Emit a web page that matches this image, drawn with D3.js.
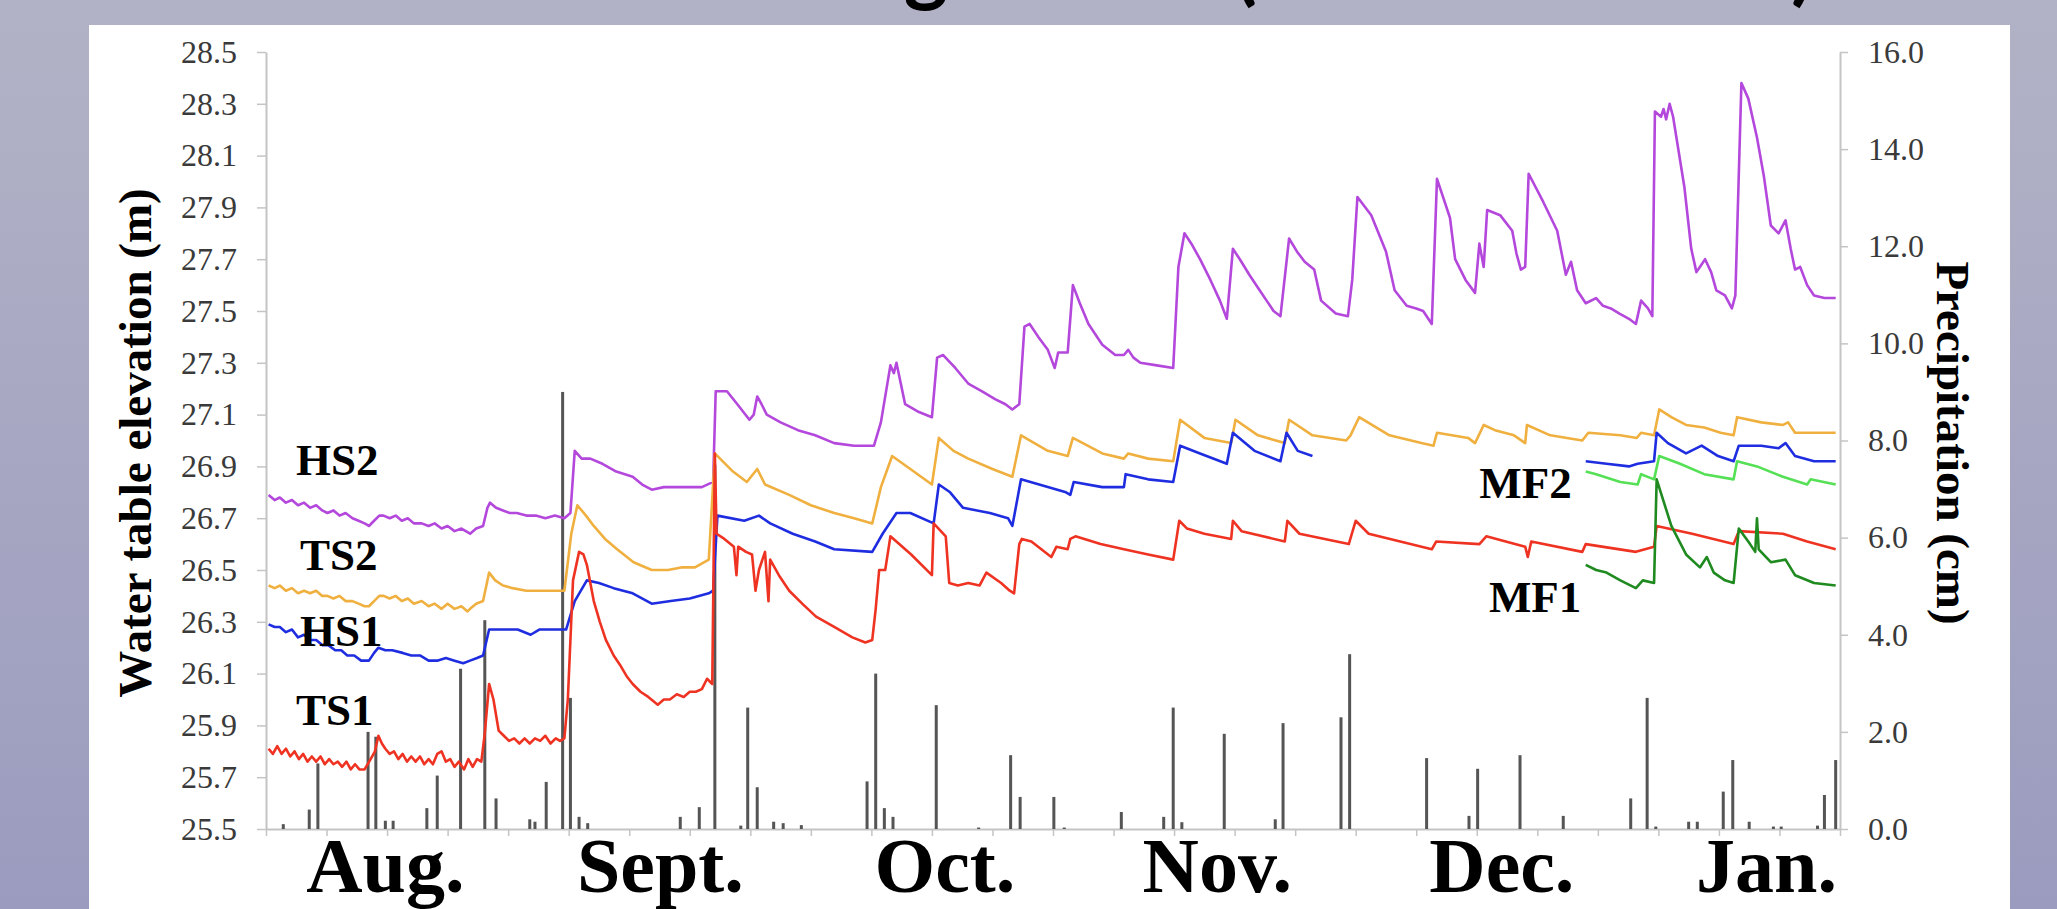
<!DOCTYPE html>
<html><head><meta charset="utf-8">
<script src="https://cdn.jsdelivr.net/npm/d3@7"></script>
<style>
html,body{margin:0;padding:0;overflow:hidden;background:#fff;}
</style></head><body>
<svg id="chart" width="2057" height="909"></svg>
<script>
// ---------- DATA (day index since start of record, water table elevation in m) ----------
const hs2 = [[0.3,26.79],[1.0,26.77],[1.6,26.78],[2.3,26.76],[3.0,26.77],[3.7,26.75],[4.4,26.76],[5.1,26.74],[5.8,26.75],[6.5,26.73],[7.1,26.72],[7.8,26.73],[8.5,26.71],[9.2,26.72],[10.0,26.70],[10.7,26.69],[11.4,26.68],[11.9,26.67],[12.5,26.69],[13.1,26.71],[13.6,26.71],[14.3,26.70],[15.0,26.71],[15.7,26.69],[16.4,26.70],[17.1,26.68],[18.0,26.68],[18.8,26.67],[19.5,26.68],[20.3,26.66],[21.0,26.67],[21.8,26.65],[22.6,26.66],[23.6,26.64],[24.3,26.66],[25.1,26.67],[25.6,26.74],[25.9,26.76],[26.6,26.74],[27.4,26.73],[28.2,26.72],[29.0,26.72],[30.1,26.71],[31.2,26.71],[32.3,26.70],[33.4,26.71],[34.5,26.70],[35.2,26.72],[35.7,26.96],[36.5,26.93],[37.5,26.93],[38.9,26.91],[40.5,26.88],[42.4,26.86],[43.5,26.83],[44.6,26.81],[46.0,26.82],[47.9,26.82],[49.0,26.82],[50.4,26.82],[51.7,26.84],[52.0,27.19],[53.3,27.19],[54.5,27.14],[55.9,27.08],[56.4,27.10],[56.8,27.17],[57.3,27.14],[57.9,27.10],[59.5,27.07],[61.5,27.04],[63.5,27.02],[65.7,26.99],[68.0,26.98],[70.3,26.98],[71.1,27.07],[72.2,27.29],[72.6,27.26],[72.9,27.30],[73.4,27.22],[73.9,27.14],[75.5,27.11],[77.0,27.09],[77.6,27.32],[78.3,27.33],[79.7,27.28],[81.2,27.22],[82.8,27.19],[84.3,27.16],[85.5,27.14],[86.3,27.12],[87.1,27.14],[87.7,27.44],[88.3,27.45],[89.3,27.40],[90.4,27.35],[91.2,27.28],[91.6,27.34],[92.7,27.34],[93.3,27.60],[94.1,27.53],[95.1,27.45],[96.7,27.37],[98.2,27.33],[99.2,27.33],[99.7,27.35],[100.3,27.32],[101.1,27.30],[103.0,27.29],[104.9,27.28],[105.5,27.67],[106.2,27.80],[107.0,27.76],[108.0,27.70],[109.2,27.62],[110.3,27.54],[111.1,27.47],[111.8,27.74],[112.6,27.70],[113.7,27.64],[114.7,27.59],[115.7,27.54],[116.5,27.50],[117.3,27.48],[118.3,27.78],[119.2,27.73],[120.1,27.69],[121.2,27.66],[122.0,27.54],[123.7,27.49],[125.1,27.48],[125.6,27.62],[126.2,27.94],[127.8,27.87],[129.5,27.73],[130.5,27.58],[131.9,27.52],[133.0,27.51],[133.8,27.50],[134.8,27.45],[135.4,28.01],[136.9,27.86],[137.5,27.70],[138.7,27.62],[139.8,27.57],[140.3,27.76],[140.8,27.67],[141.2,27.89],[142.7,27.87],[144.1,27.81],[144.6,27.72],[145.1,27.66],[145.6,27.67],[146.0,28.03],[147.7,27.92],[149.3,27.81],[150.3,27.64],[150.9,27.69],[151.6,27.58],[152.6,27.53],[153.8,27.55],[154.6,27.52],[155.5,27.51],[156.5,27.49],[157.6,27.47],[158.4,27.45],[159.0,27.54],[159.8,27.51],[160.3,27.48],[160.6,28.27],[161.3,28.25],[161.6,28.28],[161.9,28.24],[162.3,28.30],[162.7,28.25],[164.0,27.98],[164.8,27.74],[165.4,27.65],[166.4,27.70],[167.1,27.65],[167.7,27.58],[168.7,27.56],[169.5,27.51],[169.9,27.56],[170.6,28.38],[171.4,28.32],[172.4,28.17],[173.2,28.02],[174.0,27.83],[174.9,27.80],[175.7,27.85],[176.3,27.74],[176.8,27.66],[177.4,27.67],[178.2,27.60],[179.0,27.56],[180.2,27.55],[181.5,27.55]];

const ts2 = [[0.3,26.44],[1.0,26.43],[1.6,26.44],[2.3,26.42],[3.0,26.43],[3.7,26.41],[4.4,26.42],[5.1,26.41],[5.8,26.42],[6.5,26.40],[7.1,26.40],[7.8,26.39],[8.5,26.40],[9.2,26.38],[10.0,26.38],[10.7,26.37],[11.4,26.36],[11.9,26.36],[12.5,26.38],[13.1,26.40],[13.6,26.40],[14.3,26.39],[15.0,26.40],[15.7,26.38],[16.4,26.39],[17.1,26.37],[18.0,26.38],[18.8,26.36],[19.5,26.37],[20.3,26.35],[21.0,26.37],[21.8,26.35],[22.6,26.36],[23.3,26.34],[23.6,26.35],[24.3,26.37],[25.1,26.38],[25.8,26.49],[26.5,26.46],[27.4,26.44],[28.5,26.43],[30.1,26.42],[31.5,26.42],[33.0,26.42],[34.5,26.42],[35.3,26.64],[36.0,26.75],[37.0,26.71],[37.9,26.67],[39.2,26.62],[40.6,26.58],[42.5,26.53],[44.6,26.50],[46.5,26.50],[48.0,26.51],[49.6,26.51],[51.2,26.54],[51.9,26.95],[52.5,26.93],[54.0,26.88],[55.6,26.84],[56.8,26.89],[57.7,26.83],[60.5,26.79],[63.0,26.75],[65.7,26.72],[68.0,26.70],[70.1,26.68],[71.1,26.82],[72.4,26.94],[74.5,26.89],[77.0,26.83],[77.8,27.01],[79.5,26.96],[81.2,26.93],[84.0,26.89],[86.3,26.86],[87.3,27.02],[90.4,26.96],[92.7,26.94],[93.3,27.01],[96.7,26.95],[99.2,26.93],[99.7,26.95],[102.0,26.93],[104.9,26.92],[105.7,27.08],[108.5,27.01],[111.6,26.99],[112.1,27.08],[114.7,27.02],[117.8,26.99],[118.3,27.08],[121.0,27.02],[124.9,27.00],[125.4,27.02],[126.4,27.09],[129.9,27.02],[133.6,26.99],[135.0,26.98],[135.4,27.03],[139.0,27.01],[139.8,26.99],[140.8,27.06],[142.1,27.04],[144.3,27.02],[145.6,26.99],[145.8,27.06],[148.5,27.02],[152.2,27.00],[152.9,27.03],[156.6,27.02],[158.5,27.01],[159.0,27.03],[160.5,27.02],[161.1,27.12],[162.5,27.09],[164.2,27.06],[166.3,27.05],[168.2,27.03],[169.7,27.02],[170.1,27.09],[172.9,27.07],[175.4,27.06],[176.0,27.07],[176.8,27.03],[179.0,27.03],[181.5,27.03]];

// HS1: null marks the gap in the record
const hs1 = [[0.3,26.29],[1.0,26.28],[1.6,26.28],[2.3,26.26],[3.0,26.27],[3.7,26.24],[4.4,26.25],[5.1,26.23],[5.8,26.23],[6.5,26.21],[7.2,26.21],[8.0,26.19],[8.7,26.19],[9.4,26.17],[10.2,26.17],[11.0,26.15],[11.9,26.15],[12.5,26.18],[13.0,26.20],[13.8,26.19],[14.6,26.19],[15.8,26.18],[16.8,26.17],[17.8,26.17],[18.8,26.15],[19.8,26.15],[20.8,26.16],[21.8,26.15],[22.8,26.14],[23.6,26.15],[24.4,26.16],[25.1,26.17],[25.8,26.27],[27.0,26.27],[28.0,26.27],[29.1,26.27],[30.6,26.25],[31.6,26.27],[32.6,26.27],[34.7,26.27],[35.7,26.38],[37.1,26.46],[38.5,26.45],[40.2,26.43],[42.4,26.41],[44.6,26.37],[46.8,26.38],[49.0,26.39],[51.2,26.41],[51.7,26.42],[52.2,26.71],[55.3,26.69],[57.0,26.71],[58.3,26.68],[60.9,26.64],[63.5,26.61],[65.7,26.58],[70.1,26.57],[71.3,26.64],[72.9,26.72],[74.5,26.72],[77.2,26.68],[77.8,26.83],[79.1,26.80],[80.6,26.74],[83.7,26.72],[85.8,26.70],[86.3,26.67],[87.3,26.85],[89.4,26.83],[92.5,26.80],[93.0,26.79],[93.4,26.84],[96.7,26.82],[99.2,26.82],[99.4,26.87],[102.0,26.85],[104.9,26.84],[105.7,26.98],[108.0,26.95],[111.1,26.91],[111.8,27.03],[114.3,26.96],[117.3,26.92],[118.0,27.03],[119.3,26.96],[121.0,26.94],
  [136.0,null],
  [152.6,26.92],[155.0,26.91],[157.6,26.90],[158.6,26.91],[160.5,26.92],[160.8,27.03],[162.1,26.99],[164.2,26.95],[166.0,26.98],[167.9,26.94],[169.7,26.92],[170.3,26.98],[172.9,26.98],[174.9,26.97],[175.7,26.99],[176.8,26.94],[179.0,26.92],[181.5,26.92]];

const ts1 = [[0.3,25.81],[0.8,25.79],[1.3,25.82],[1.8,25.79],[2.3,25.81],[2.8,25.78],[3.3,25.80],[3.8,25.77],[4.3,25.79],[4.8,25.76],[5.3,25.78],[5.8,25.76],[6.3,25.78],[6.8,25.75],[7.3,25.77],[7.8,25.75],[8.3,25.76],[8.8,25.74],[9.3,25.76],[9.8,25.73],[10.3,25.75],[10.8,25.73],[11.4,25.73],[12.1,25.77],[12.6,25.80],[13.0,25.86],[13.4,25.83],[13.8,25.81],[14.3,25.79],[14.8,25.80],[15.3,25.77],[15.8,25.79],[16.3,25.76],[16.8,25.78],[17.3,25.76],[17.8,25.78],[18.3,25.75],[18.8,25.77],[19.3,25.75],[19.8,25.79],[20.3,25.80],[20.8,25.76],[21.3,25.77],[21.8,25.74],[22.3,25.76],[22.9,25.73],[23.4,25.77],[23.9,25.74],[24.4,25.77],[24.9,25.76],[25.3,25.87],[25.8,26.06],[26.3,26.00],[26.9,25.88],[27.5,25.86],[28.1,25.84],[28.7,25.85],[29.3,25.83],[29.9,25.85],[30.5,25.83],[31.1,25.85],[31.7,25.84],[32.3,25.86],[32.9,25.83],[33.5,25.85],[34.0,25.84],[34.5,25.85],[34.9,26.00],[35.5,26.46],[36.2,26.57],[36.7,26.56],[37.1,26.52],[37.9,26.38],[38.6,26.30],[39.3,26.23],[40.2,26.17],[41.0,26.13],[41.7,26.09],[42.4,26.06],[43.3,26.03],[44.2,26.01],[45.3,25.98],[46.0,26.00],[46.7,26.00],[47.5,26.02],[48.3,26.01],[49.0,26.03],[49.7,26.03],[50.4,26.04],[51.0,26.08],[51.6,26.06],[51.9,26.95],[52.1,26.64],[53.0,26.62],[54.1,26.59],[54.4,26.48],[54.6,26.59],[55.5,26.57],[56.2,26.56],[56.6,26.42],[57.0,26.50],[57.7,26.57],[58.1,26.38],[58.3,26.54],[59.3,26.48],[60.5,26.42],[62.0,26.37],[63.6,26.32],[65.7,26.28],[67.8,26.24],[69.3,26.22],[70.1,26.23],[70.5,26.35],[70.9,26.50],[71.6,26.50],[72.2,26.63],[74.6,26.56],[77.0,26.48],[77.2,26.68],[78.6,26.63],[79.0,26.45],[80.0,26.44],[81.2,26.45],[82.5,26.44],[83.3,26.49],[85.0,26.45],[86.0,26.42],[86.5,26.41],[87.1,26.60],[87.4,26.62],[88.5,26.61],[90.8,26.55],[91.4,26.59],[92.7,26.58],[93.0,26.62],[93.6,26.63],[96.5,26.60],[99.2,26.58],[102.0,26.56],[104.9,26.54],[105.6,26.69],[106.5,26.66],[108.5,26.64],[111.6,26.62],[111.8,26.69],[112.8,26.65],[117.8,26.61],[118.1,26.69],[119.5,26.64],[125.2,26.60],[126.0,26.69],[127.5,26.64],[134.8,26.58],[135.3,26.61],[140.3,26.60],[141.1,26.63],[145.6,26.59],[145.9,26.55],[146.3,26.61],[152.2,26.57],[152.6,26.60],[158.4,26.57],[160.5,26.59],[160.8,26.67],[164.9,26.64],[169.7,26.60],[170.3,26.65],[175.4,26.64],[178.2,26.61],[181.5,26.58]];

const mf2 = [[152.6,26.88],[153.8,26.87],[156.6,26.84],[158.6,26.83],[159.0,26.87],[160.5,26.85],[161.1,26.94],[163.5,26.91],[166.3,26.87],[169.7,26.85],[170.1,26.92],[172.4,26.90],[175.4,26.86],[178.2,26.83],[178.6,26.85],[181.5,26.83]];

const mf1 = [[152.6,26.52],[153.8,26.50],[155.0,26.49],[156.6,26.46],[158.4,26.43],[159.2,26.46],[160.5,26.45],[160.8,26.85],[162.5,26.67],[164.2,26.56],[165.8,26.51],[166.6,26.55],[167.4,26.49],[168.7,26.46],[169.7,26.45],[170.3,26.66],[171.6,26.60],[172.2,26.57],[172.4,26.70],[172.6,26.58],[174.0,26.53],[175.7,26.54],[176.8,26.48],[179.0,26.45],[181.5,26.44]];

// Daily precipitation (cm)
const precipDays = [2.0,5.0,6.0,11.8,12.7,13.8,14.7,18.6,19.8,22.5,25.3,26.6,30.5,31.1,32.4,34.3,35.2,36.2,37.2,47.9,50.1,51.9,54.9,55.7,56.8,58.7,59.8,61.9,69.5,70.5,71.5,72.5,77.5,82.4,86.1,87.2,91.1,92.3,98.9,103.8,104.9,105.9,110.8,116.7,117.6,124.3,125.3,134.2,139.1,140.1,145.0,150.0,157.8,159.7,160.7,164.5,165.5,168.5,169.6,171.5,174.3,175.2,179.4,180.2,181.5];
const precipCm   = [0.10,0.40,1.35,2.00,1.90,0.17,0.17,0.43,1.10,3.30,4.30,0.63,0.20,0.15,0.97,9.00,2.70,0.25,0.12,0.25,0.45,7.50,0.07,2.50,0.86,0.15,0.12,0.08,0.98,3.20,0.43,0.25,2.55,0.03,1.52,0.66,0.66,0.03,0.35,0.25,2.50,0.14,1.96,0.20,2.18,2.30,3.60,1.46,0.27,1.24,1.52,0.27,0.63,2.70,0.05,0.15,0.15,0.77,1.42,0.15,0.05,0.05,0.07,0.70,1.42];

// Axis ticks / labels
const leftTicks  = [25.5,25.7,25.9,26.1,26.3,26.5,26.7,26.9,27.1,27.3,27.5,27.7,27.9,28.1,28.3,28.5];
const rightTicks = [0,2,4,6,8,10,12,14,16];
const weekTicks  = [0,7,14,21,28,35,42,49,56,63,70,77,84,91,98,105,112,119,126,133,140,147,154,161,168,175,182];
const monthLabels = ["Aug.","Sept.","Oct.","Nov.","Dec.","Jan."];
const monthLabelDays = [13.8,45.6,78.5,110.0,142.9,173.5];

// Series labels
const seriesLabels = ["HS2","TS2","HS1","TS1","MF2","MF1"];
const seriesLabelDays = [3.47,3.93,3.93,3.47,140.3,141.4];
const seriesLabelValues = [26.867,26.500,26.207,25.902,26.778,26.338];

// ---------- DRAW ----------
const W = 2057, H = 909;
const svg = d3.select("#chart");

const defs = svg.append("defs");
const grad = defs.append("linearGradient").attr("id","bg").attr("x1",0).attr("y1",0).attr("x2",0).attr("y2",1);
grad.append("stop").attr("offset","0%").attr("stop-color","#b2b2c6");
grad.append("stop").attr("offset","100%").attr("stop-color","#9b9bbf");
svg.append("rect").attr("width",W).attr("height",H).attr("fill","url(#bg)");

// Title: the slide title sits above the visible area, only its descenders show (as in the reference)
const titleFont = "Lato, 'Open Sans', sans-serif";
svg.append("text").attr("x",948).attr("y",-5).attr("text-anchor","end")
  .attr("font-family",titleFont).attr("font-weight",700).attr("font-size",84).attr("fill","#000")
  .text("Water Table Monitoring");
svg.append("text").attr("x",1234).attr("y",-5).attr("text-anchor","start")
  .attr("font-family",titleFont).attr("font-weight",700).attr("font-size",84).attr("fill","#000")
  .attr("textLength",580).attr("lengthAdjust","spacing")
  .text("(2012 – 2013)");

// White slide panel
svg.append("rect").attr("x",89).attr("y",25).attr("width",1921).attr("height",H).attr("fill","#fff");

const x  = d3.scaleLinear().domain([0,182]).range([266,1840]);
const yL = d3.scaleLinear().domain([25.5,28.5]).range([829,52]);
const yR = d3.scaleLinear().domain([0,16]).range([829,52]);

const serif = "'Liberation Serif','Times New Roman',serif";
const axisGray = "#c4c4c4";

function styleAxis(g){
  g.select(".domain").attr("stroke",axisGray).attr("stroke-width",2);
  g.selectAll(".tick line").attr("stroke",axisGray).attr("stroke-width",1.5);
  g.selectAll(".tick text").attr("font-family",serif).attr("font-size",32).attr("fill","#3a3a3a");
}

svg.append("g").attr("transform","translate(266,0)")
  .call(d3.axisLeft(yL).tickValues(leftTicks).tickFormat(d3.format(".1f")).tickSize(9).tickSizeOuter(0).tickPadding(20))
  .call(styleAxis);

svg.append("g").attr("transform","translate(1840,0)")
  .call(d3.axisRight(yR).tickValues(rightTicks).tickFormat(d3.format(".1f")).tickSize(8).tickSizeOuter(0).tickPadding(20))
  .call(styleAxis);

svg.append("g").attr("transform","translate(0,829)")
  .call(d3.axisBottom(x).tickValues(weekTicks).tickFormat("").tickSize(7).tickSizeOuter(0))
  .call(styleAxis);

// Precipitation bars
svg.append("g").selectAll("rect").data(precipDays).join("rect")
  .attr("x",d=>x(d)-1.5).attr("width",3)
  .attr("y",(d,i)=>yR(precipCm[i]))
  .attr("height",(d,i)=>yR(0)-yR(precipCm[i]))
  .attr("fill","#555");

// Water table lines
const line = d3.line().defined(d=>d[1]!=null).x(d=>x(d[0])).y(d=>yL(d[1]));
const series = [
  {data:hs2, color:"#b447dc"},
  {data:ts2, color:"#f0b040"},
  {data:hs1, color:"#1f2de0"},
  {data:ts1, color:"#ef3322"},
  {data:mf2, color:"#55e055"},
  {data:mf1, color:"#1f8a1f"}
];
svg.append("g").selectAll("path").data(series).join("path")
  .attr("d",d=>line(d.data)).attr("fill","none")
  .attr("stroke",d=>d.color).attr("stroke-width",2.6).attr("stroke-linejoin","round");

// Series labels
svg.append("g").selectAll("text").data(seriesLabels).join("text")
  .attr("x",(d,i)=>x(seriesLabelDays[i])).attr("y",(d,i)=>yL(seriesLabelValues[i]))
  .attr("font-family",serif).attr("font-weight",700).attr("font-size",45).attr("fill","#000")
  .text(d=>d);

// Month labels
svg.append("g").selectAll("text").data(monthLabels).join("text")
  .attr("x",(d,i)=>x(monthLabelDays[i])).attr("y",892).attr("text-anchor","middle")
  .attr("font-family",serif).attr("font-weight",700).attr("font-size",78).attr("fill","#000")
  .text(d=>d);

// Axis titles
svg.append("text").attr("transform","translate(135,443) rotate(-90)").attr("text-anchor","middle").attr("dy","0.35em")
  .attr("font-family",serif).attr("font-weight",700).attr("font-size",47).attr("fill","#000")
  .text("Water table elevation (m)");
svg.append("text").attr("transform","translate(1953,443) rotate(90)").attr("text-anchor","middle").attr("dy","0.35em")
  .attr("font-family",serif).attr("font-weight",700).attr("font-size",47).attr("fill","#000")
  .text("Precipitation (cm)");
</script>
</body></html>
